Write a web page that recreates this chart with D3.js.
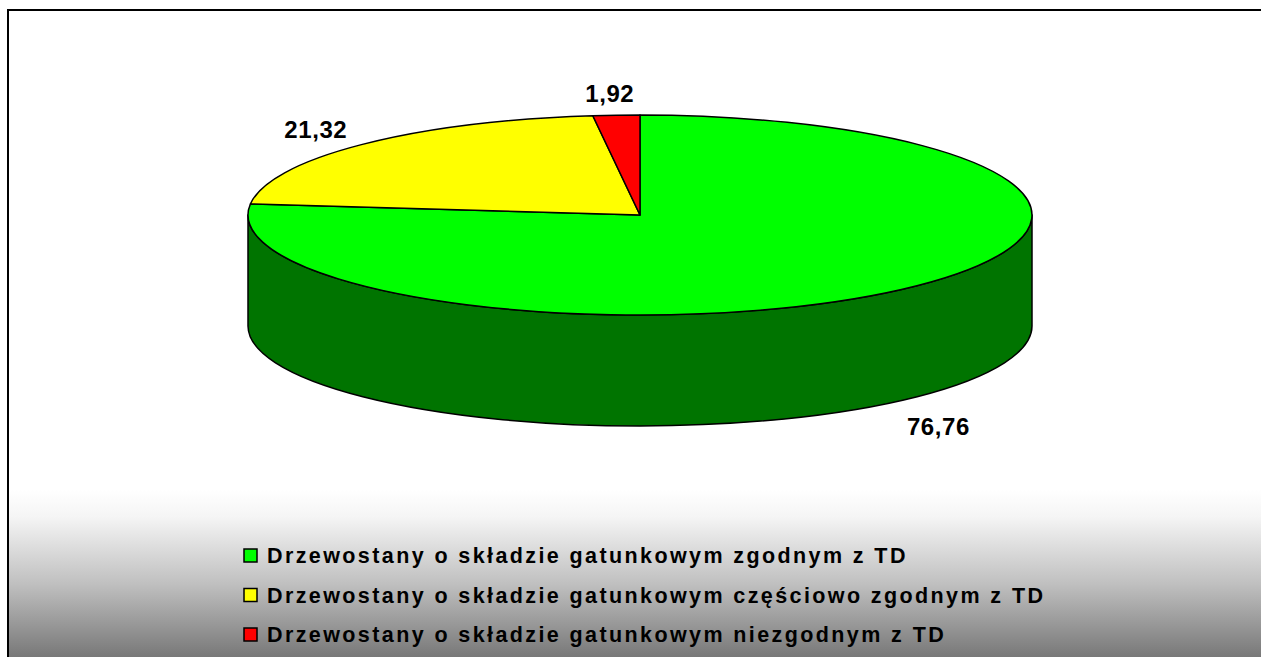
<!DOCTYPE html>
<html>
<head>
<meta charset="utf-8">
<script src="https://cdn.jsdelivr.net/npm/d3@7"></script>
<style>
  body { margin: 0; background: #fff; }
  svg { display: block; }
</style>
</head>
<body>
<div id="chart"></div>
<script>
// data
var categories = [
    "Drzewostany o składzie gatunkowym zgodnym z TD",
    "Drzewostany o składzie gatunkowym częściowo zgodnym z TD",
    "Drzewostany o składzie gatunkowym niezgodnym z TD"
];
var values = [76.76, 21.32, 1.92];
var labels = ["76,76", "21,32", "1,92"];
var topColors = ["#00ff00", "#ffff00", "#ff0000"];
var sideColors = ["#007400", "#808000", "#800000"];

var W = 1261, H = 657;
var cx = 640, cy = 215, rx = 392, ry = 100, depth = 111;

var svg = d3.select("#chart")
    .append("svg")
    .attr("width", W)
    .attr("height", H);

// background gradient of the chart area
var defs = svg.append("defs");
var grad = defs.append("linearGradient")
    .attr("id", "bg")
    .attr("gradientUnits", "userSpaceOnUse")
    .attr("x1", 0).attr("y1", 490)
    .attr("x2", 0).attr("y2", 657);
grad.append("stop").attr("offset", 0).attr("stop-color", "#ffffff");
grad.append("stop").attr("offset", 0.16).attr("stop-color", "#f5f5f5");
grad.append("stop").attr("offset", 0.56).attr("stop-color", "#c0c0c0");
grad.append("stop").attr("offset", 1).attr("stop-color", "#787878");

svg.append("rect")
    .attr("x", 8)
    .attr("y", 10)
    .attr("width", W + 20)
    .attr("height", H + 20)
    .attr("fill", "url(#bg)")
    .attr("stroke", "#000")
    .attr("stroke-width", 2);

// pie angles, clockwise from 12 o'clock
var pie = d3.pie().sort(null).value(function (d) { return d; });
var arcs = pie(values);

function px(a) { return cx + rx * Math.sin(a); }
function py(a, dy) { return cy - ry * Math.cos(a) + (dy || 0); }

function topPath(d) {
    var large = (d.endAngle - d.startAngle) > Math.PI ? 1 : 0;
    return "M" + cx + "," + cy +
        "L" + px(d.startAngle) + "," + py(d.startAngle) +
        "A" + rx + "," + ry + " 0 " + large + " 1 " + px(d.endAngle) + "," + py(d.endAngle) +
        "Z";
}

// front wall: only the part between 3 o'clock and 9 o'clock is seen
function sidePath(d) {
    var s = Math.max(d.startAngle, Math.PI / 2);
    var e = Math.min(d.endAngle, 3 * Math.PI / 2);
    if (e <= s) return null;
    return "M" + px(s) + "," + py(s) +
        "A" + rx + "," + ry + " 0 0 1 " + px(e) + "," + py(e) +
        "L" + px(e) + "," + py(e, depth) +
        "A" + rx + "," + ry + " 0 0 0 " + px(s) + "," + py(s, depth) +
        "Z";
}

var g = svg.append("g");

g.selectAll("path.side")
    .data(arcs.filter(function (d) { return sidePath(d) !== null; }))
    .enter()
    .append("path")
    .attr("class", "side")
    .attr("d", sidePath)
    .attr("fill", function (d) { return sideColors[d.index]; })
    .attr("stroke", "#000")
    .attr("stroke-width", 1.5)
    .attr("stroke-linejoin", "round");

g.selectAll("path.top")
    .data(arcs)
    .enter()
    .append("path")
    .attr("class", "top")
    .attr("d", topPath)
    .attr("fill", function (d) { return topColors[d.index]; })
    .attr("stroke", "#000")
    .attr("stroke-width", 1.5)
    .attr("stroke-linejoin", "round");

// data labels outside the pie
g.selectAll("text.lbl")
    .data(arcs)
    .enter()
    .append("text")
    .attr("class", "lbl")
    .attr("x", function (d) {
        var m = (d.startAngle + d.endAngle) / 2;
        return cx + (rx + 60) * Math.sin(m) - 3;
    })
    .attr("y", function (d) {
        var m = (d.startAngle + d.endAngle) / 2;
        var y = cy - (ry + 22) * Math.cos(m);
        if (Math.cos(m) < 0) y += depth + 9;
        return y;
    })
    .attr("dy", "0.36em")
    .attr("text-anchor", "middle")
    .style("font-family", "'Liberation Sans', Arial, sans-serif")
    .style("font-weight", "bold")
    .style("font-size", "24px")
    .style("letter-spacing", "0.6px")
    .text(function (d) { return labels[d.index]; });

// legend
var legend = svg.append("g")
    .attr("transform", "translate(244,563)");

var rows = legend.selectAll("g")
    .data(categories)
    .enter()
    .append("g")
    .attr("transform", function (d, i) { return "translate(0," + (i * 39.5) + ")"; });

rows.append("rect")
    .attr("x", 0)
    .attr("y", -14)
    .attr("width", 13)
    .attr("height", 13)
    .attr("fill", function (d, i) { return topColors[i]; })
    .attr("stroke", "#000")
    .attr("stroke-width", 1.5);

rows.append("text")
    .attr("x", 23)
    .attr("y", 0)
    .style("font-family", "'Liberation Sans', Arial, sans-serif")
    .style("font-weight", "bold")
    .style("font-size", "21.5px")
    .style("letter-spacing", "2.4px")
    .text(function (d) { return d; });
</script>
</body>
</html>
